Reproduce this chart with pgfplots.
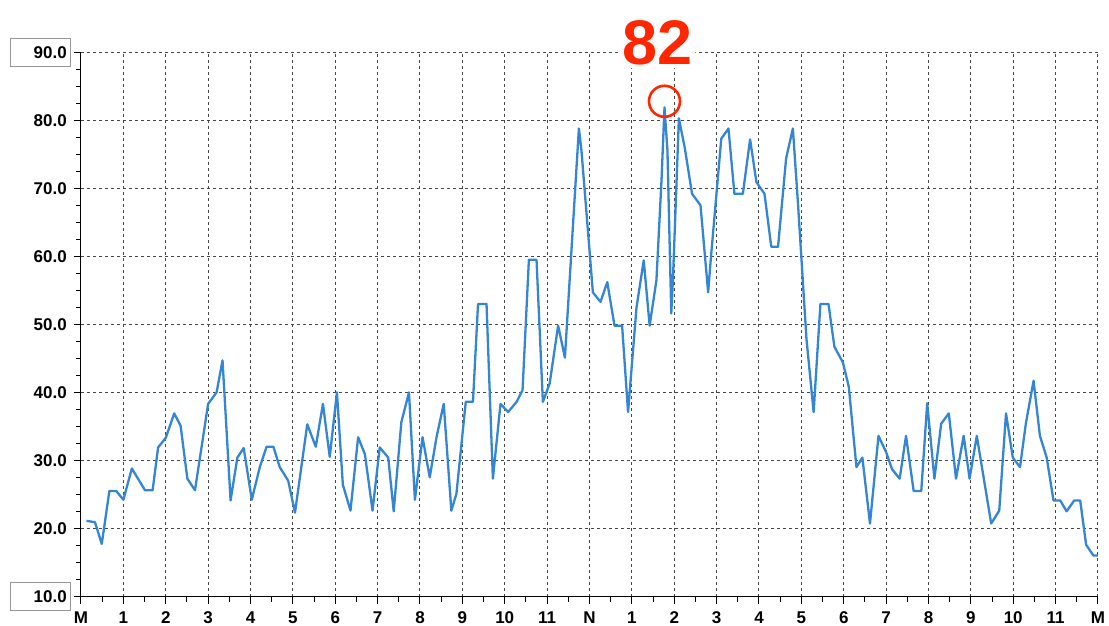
\documentclass[border=0pt]{standalone}
\usepackage{fontspec}
\setmainfont{Liberation Sans}
\usepackage{pgfplots}
\pgfplotsset{compat=1.18}
\definecolor{lineblue}{RGB}{52,133,212}
\definecolor{gridgray}{RGB}{70,70,70}
\definecolor{annred}{RGB}{255,38,0}
\definecolor{boxgray}{RGB}{150,150,150}
\newcommand\yl[2]{{\setlength\fboxrule{1pt}\setlength\fboxsep{0pt}\fcolorbox{#1}{white}{\makebox[59pt][r]{\rule[-7.5pt]{0pt}{27pt}#2\hspace{3pt}}}}}
\tikzset{bigt/.style={font=\fontsize{63}{63}\selectfont\bfseries}}
\begin{document}
\begin{tikzpicture}
\path[use as bounding box] (-81pt,-29pt) rectangle (1028pt,597pt);
\begin{axis}[
 scale only axis, width=1017pt, height=544pt,
 xmin=0,xmax=24,ymin=10,ymax=90,
 axis lines=left, axis line style={-, line width=1pt, black},
 xtick={0,1,...,24},
 xticklabels={M,1,2,3,4,5,6,7,8,9,10,11,N,1,2,3,4,5,6,7,8,9,10,11,M},
 ytick={10,20,30,40,50,60,70,80,90},
 yticklabels={\yl{boxgray}{10.0},\yl{white}{20.0},\yl{white}{30.0},\yl{white}{40.0},\yl{white}{50.0},\yl{white}{60.0},\yl{white}{70.0},\yl{white}{80.0},\yl{boxgray}{90.0}},
 minor x tick num=1, minor y tick num=3,
 tick align=outside, major tick length=7pt, minor tick length=5pt,
 tick style={black, line width=1pt},
 grid=major, major grid style={gridgray, dash pattern=on 3pt off 3pt, line width=1pt},
 ticklabel style={font=\fontsize{17}{17}\selectfont\bfseries},
 xticklabel style={yshift=-4pt},
 yticklabel style={inner sep=0pt, anchor=east, xshift=-3pt},
 clip=false,
]
\addplot[lineblue, line width=2.3pt, line join=round] coordinates {
(0.13,21.2)(0.33,21.0)(0.49,17.8)(0.67,25.6)(0.83,25.6)(1.00,24.3)(1.20,28.9)
(1.51,25.7)(1.69,25.7)(1.82,32.0)(2.00,33.4)(2.20,37.0)(2.35,35.2)(2.51,27.4)
(2.69,25.7)(3.00,38.4)(3.20,40.1)(3.34,44.8)(3.53,24.2)(3.69,30.5)(3.84,31.9)
(4.03,24.3)(4.22,29.1)(4.38,32.1)(4.54,32.1)(4.69,29.1)(4.89,27.1)(5.05,22.4)
(5.34,35.4)(5.54,32.1)(5.71,38.4)(5.87,30.6)(6.04,40.1)(6.18,26.5)(6.36,22.7)
(6.54,33.5)(6.70,31.0)(6.88,22.7)(7.05,32.0)(7.25,30.5)(7.38,22.6)(7.56,35.7)
(7.74,40.1)(7.88,24.3)(8.06,33.5)(8.23,27.6)(8.39,33.5)(8.56,38.4)(8.74,22.7)
(8.86,25.2)(9.08,38.7)(9.25,38.7)(9.37,53.1)(9.57,53.1)(9.72,27.4)(9.90,38.4)
(10.08,37.2)(10.28,38.7)(10.42,40.4)(10.57,59.6)(10.75,59.6)(10.90,38.7)(11.06,41.4)
(11.26,49.9)(11.42,45.2)(11.75,78.9)(11.81,75.7)(12.08,54.8)(12.26,53.4)(12.42,56.3)
(12.59,49.9)(12.77,49.9)(12.91,37.2)(13.11,52.6)(13.28,59.5)(13.42,49.9)(13.58,56.6)
(13.70,71.3)(13.77,82.0)(13.84,75.7)(13.93,51.7)(13.97,56.8)(14.11,80.4)(14.25,76.0)
(14.42,69.3)(14.62,67.6)(14.80,54.8)(14.86,59.5)(15.11,77.4)(15.28,78.9)(15.42,69.3)
(15.62,69.3)(15.79,77.3)(15.94,71.0)(16.13,69.3)(16.29,61.5)(16.45,61.5)(16.64,74.5)
(16.80,78.9)(16.92,67.9)(17.12,48.0)(17.29,37.2)(17.45,53.1)(17.64,53.1)(17.78,46.8)
(17.98,44.5)(18.12,40.9)(18.30,29.1)(18.44,30.5)(18.62,20.8)(18.82,33.7)(19.00,31.3)
(19.14,28.8)(19.32,27.4)(19.47,33.7)(19.65,25.6)(19.83,25.6)(19.97,38.5)(20.14,27.4)
(20.30,35.5)(20.48,37.0)(20.65,27.4)(20.83,33.7)(20.97,27.4)(21.14,33.7)(21.48,20.8)
(21.67,22.7)(21.83,37.0)(21.99,30.5)(22.16,29.1)(22.30,35.6)(22.48,41.8)(22.63,33.7)
(22.79,30.5)(22.95,24.2)(23.11,24.2)(23.26,22.6)(23.44,24.2)(23.58,24.2)(23.72,17.7)
(23.89,16.1)(24.00,16.1)
};
\addplot[only marks, mark=o, mark size=15.5pt, annred, line width=2.6pt] coordinates {(13.77,82.9)};
\node[text=annred, bigt, fill=white, rounded corners=8pt, inner sep=3pt] at (axis cs:13.6,91.5) {82};
\end{axis}
\end{tikzpicture}
\end{document}
